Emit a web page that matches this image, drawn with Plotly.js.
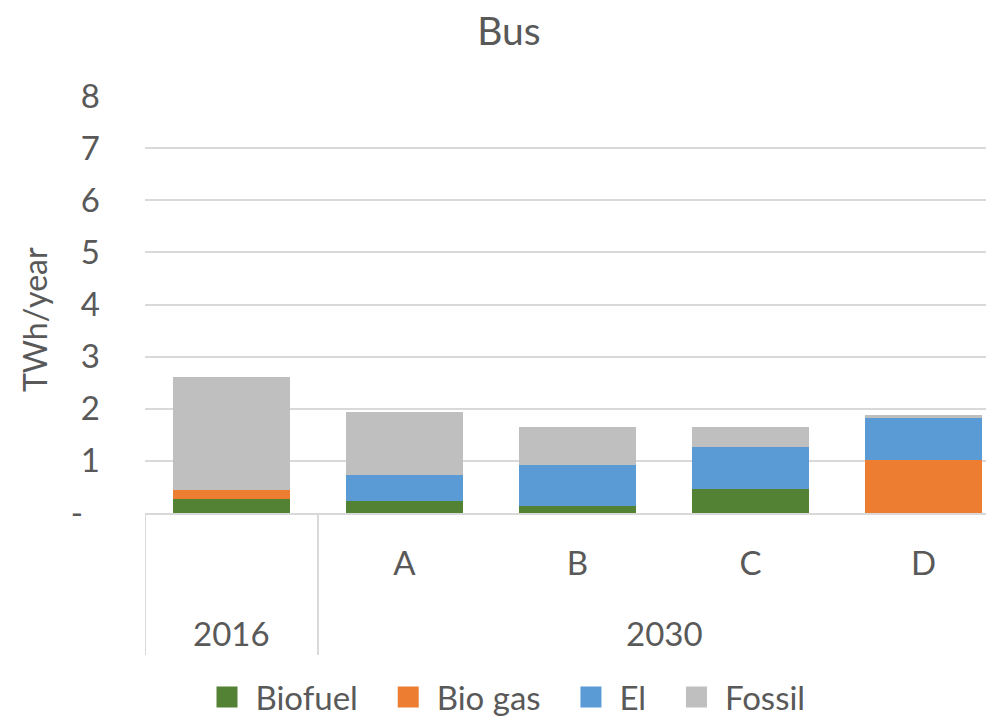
<!DOCTYPE html>
<html>
<head>
<meta charset="utf-8">
<script src="https://cdn.plot.ly/plotly-3.0.1.min.js"></script>
<style>
  html, body { margin: 0; padding: 0; overflow: hidden; background: #fff; }
  #chart { width: 1018px; height: 718px; }
</style>
</head>
<body>
<div id="chart"></div>
<script>
// Bus energy use by fuel, TWh/year
const periods   = ["2016", "2030", "2030", "2030", "2030"];
const scenarios = ["", "A", "B", "C", "D"];

const biofuel = [0.26, 0.23, 0.13, 0.47, 0.00];
const biogas  = [0.19, 0.00, 0.00, 0.00, 1.02];
const el      = [0.00, 0.50, 0.80, 0.79, 0.81];
const fossil  = [2.15, 1.21, 0.72, 0.39, 0.05];

const seriesNames  = ["Biofuel", "Bio gas", "El", "Fossil"];
const seriesValues = [biofuel, biogas, el, fossil];
const seriesColors = ["#548235", "#ED7D31", "#5B9BD5", "#BFBFBF"];

const yTickVals = [0, 1, 2, 3, 4, 5, 6, 7, 8];
const yTickText = ["-\u00a0\u00a0", "1", "2", "3", "4", "5", "6", "7", "8"];
const yTitle = "TWh/year";

const FONT = "Lato, 'Open Sans', sans-serif";
const TEXT = "#595959";
const LINE = "#D9D9D9";
const FS = 33;

// one unique category key per bar; the visible tick text is the scenario letter
const xKeys = periods.map((p, i) => scenarios[i] ? p + " " + scenarios[i] : p);

// period groups: label centred under its bars, dividers at the group edges
const groups = [];
periods.forEach((p, i) => {
  const last = groups[groups.length - 1];
  if (last && last.name === p) last.end = i;
  else groups.push({ name: p, start: i, end: i });
});

const AXIS_DEPTH = -0.3405;   // how far the category band reaches below the plot (paper units)
const GROUP_ROW  = -0.2878;   // vertical position of the period labels (paper units)

const shapes = [];
groups.forEach((g, k) => {
  if (k === 0) {
    shapes.push({ type: "line", xref: "x", yref: "paper", x0: g.start - 0.5, x1: g.start - 0.5,
                  y0: 0, y1: AXIS_DEPTH, line: { color: LINE, width: 2 } });
  }
  shapes.push({ type: "line", xref: "x", yref: "paper", x0: g.end + 0.5, x1: g.end + 0.5,
                y0: 0, y1: AXIS_DEPTH, line: { color: LINE, width: 2 } });
});

const annotations = groups.map(g => ({
  text: g.name,
  xref: "x", yref: "paper",
  x: (g.start + g.end) / 2, y: GROUP_ROW,
  xanchor: "center", yanchor: "middle",
  showarrow: false,
  font: { family: FONT, size: FS, color: TEXT }
}));

// value-axis title, set a little below the middle of the plot
annotations.push({
  text: yTitle,
  xref: "paper", yref: "paper",
  x: -0.127, y: 0.463,
  xanchor: "center", yanchor: "middle",
  textangle: -90,
  showarrow: false,
  font: { family: FONT, size: 32, color: TEXT }
});

const barTraces = seriesNames.map((name, i) => ({
  type: "bar",
  name: name,
  x: xKeys,
  y: seriesValues[i],
  marker: { color: seriesColors[i], line: { width: 0 } },
  showlegend: false,
  hoverinfo: "name+y"
}));

// legend keys: square swatches in the series colours
const legendTraces = seriesNames.map((name, i) => ({
  type: "scatter",
  mode: "markers",
  name: "\u00a0" + name + (i < seriesNames.length - 1 ? "\u00a0\u00a0\u00a0" : ""),
  x: [null],
  y: [null],
  marker: { symbol: "square", size: 16, color: seriesColors[i],
            line: { color: seriesColors[i], width: 6 } },
  showlegend: true,
  hoverinfo: "skip"
}));

const layout = {
  width: 1018,
  height: 718,
  paper_bgcolor: "#ffffff",
  plot_bgcolor: "#ffffff",
  barmode: "stack",
  bargap: 0.32,
  font: { family: FONT, color: TEXT, size: FS },
  margin: { l: 145, r: 8, t: 96, b: 205 },
  title: {
    text: "Bus",
    font: { family: FONT, size: 39, color: TEXT },
    x: 0.5, xref: "container", xanchor: "center",
    y: 1 - 31 / 718, yref: "container", yanchor: "middle"
  },
  xaxis: {
    type: "category",
    range: [-0.5, xKeys.length - 0.5],
    tickvals: xKeys,
    ticktext: scenarios,
    showline: true,
    linecolor: LINE,
    linewidth: 2,
    showgrid: false,
    ticks: "",
    tickfont: { family: FONT, size: FS, color: TEXT },
    ticklabelstandoff: 20
  },
  yaxis: {
    range: [0, 8],
    tickvals: yTickVals,
    ticktext: yTickText,
    showgrid: true,
    gridcolor: LINE,
    gridwidth: 2,
    zeroline: false,
    showline: false,
    ticks: "",
    ticklabelstandoff: 44,
    tickfont: { family: FONT, size: FS, color: TEXT }
  },
  legend: {
    orientation: "h",
    x: 0.5, xanchor: "center", xref: "container",
    y: 1 - 697 / 718, yanchor: "middle", yref: "container",
    font: { family: FONT, size: FS, color: TEXT },
    itemsizing: "trace",
    traceorder: "normal"
  },
  shapes: shapes,
  annotations: annotations,
  showlegend: true
};

Plotly.newPlot("chart", barTraces.concat(legendTraces), layout, { displayModeBar: false, staticPlot: true });
</script>
</body>
</html>
